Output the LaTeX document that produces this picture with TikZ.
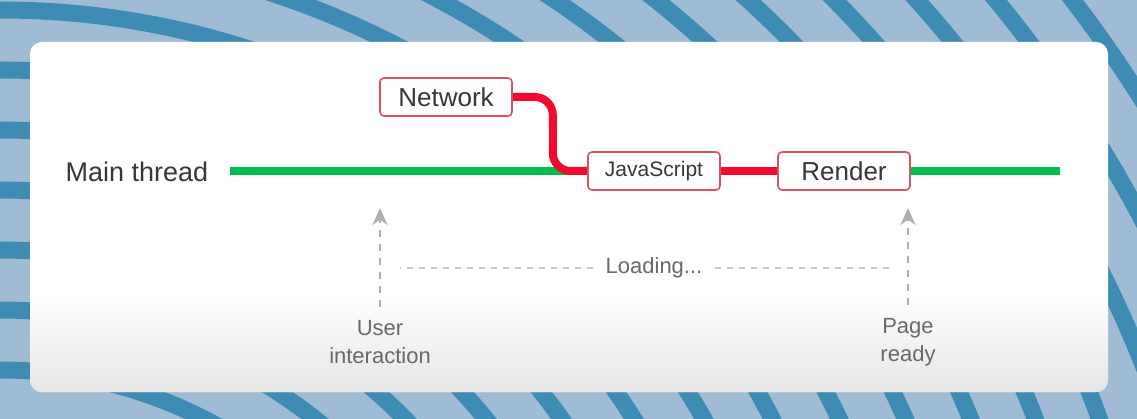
\documentclass[tikz,border=0pt]{standalone}
\usepackage{fontspec}
\setmainfont{Liberation Sans}
\usetikzlibrary{arrows.meta,positioning,backgrounds}
\definecolor{mainred}{RGB}{240,10,45}
\definecolor{maingreen}{RGB}{0,190,80}
\definecolor{boxred}{RGB}{220,80,100}
\definecolor{labelgray}{RGB}{105,105,105}
\definecolor{textdark}{RGB}{55,55,55}
\definecolor{dashgray}{RGB}{175,175,175}
\definecolor{bgblue}{RGB}{160,188,212}
\definecolor{stripeblue}{RGB}{62,140,180}
\tikzset{task/.style={draw=boxred, line width=1.6pt, rounded corners=4pt, fill=white, minimum width=132pt, minimum height=38pt, text=textdark, font=\fontsize{26}{26}\selectfont}}
\tikzset{tag/.style={text=labelgray, align=center, font=\fontsize{22}{28}\selectfont}}
\tikzset{greenline/.style={draw=maingreen, line width=8pt}}
\tikzset{redline/.style={draw=mainred, line width=8pt}}
\tikzset{eventarrow/.style={draw=dashgray, line width=2pt, dash pattern=on 7pt off 7pt, -{Stealth[length=17pt,width=15pt]}}}
\tikzset{spanline/.style={draw=dashgray!70, line width=2pt, dash pattern=on 6pt off 6pt}}

\begin{document}
\begin{tikzpicture}[x=1pt,y=-1pt]
	\useasboundingbox (0,0) rectangle (1137,419);
	\begin{scope}[on background layer]
		% wavy backdrop
		\fill[bgblue] (0,0) rectangle (1137,419);
		\clip (0,0) rectangle (1137,419);
		\foreach \r in {390,450,...,1750} {
			\draw[stripeblue, line width=17pt] (0,820) circle[radius=\r pt];
		}
		% panel
		\fill[white, rounded corners=12pt] (30,42) rectangle (1108,392);
		\clip[rounded corners=12pt] (30,42) rectangle (1108,392);
		\shade[top color=white, bottom color=black!10] (30,295) rectangle (1108,392);
	\end{scope}
	%
	\node [text=textdark, font=\fontsize{27}{27}\selectfont]  (mainlbl) at (137,172) {Main thread};
	\coordinate (gstart) at (230,171);
	\coordinate (gend)   at (1060,171);
	\node [task]                                      (net)    at (446,97)  {Network};
	\node [task, font=\fontsize{21}{21}\selectfont]   (js)     at (654,171) {JavaScript};
	\node [task]                                      (render) at (844,171) {Render};
	%
	\node [tag]               (user) at (380,342) {User\\interaction};
	\node [tag]               (page) at (908,342) {Page\\ready};
	\node [tag, inner sep=12pt] (load) at (654,268) {Loading...};
	\coordinate (utop)   at (380,208);
	\coordinate (ptop)   at (908,208);
	\coordinate (lleft)  at (400,268);
	\coordinate (lright) at (890,268);
	%
	\begin{scope}[on background layer]
		\draw [greenline] (gstart) -- (js.west);
		\draw [greenline] (render.east) -- (gend);
		\draw [redline, rounded corners=18pt] (net.east) -- ++(40,0) |- (js.west);
		\draw [redline] (js.east) -- (render.west);
	\end{scope}
	\draw [eventarrow, shorten <=10pt] (user) -- (utop);
	\draw [eventarrow, shorten <=10pt] (page) -- (ptop);
	\draw [spanline] (load) -- (lleft);
	\draw [spanline] (load) -- (lright);
\end{tikzpicture}
\end{document}
